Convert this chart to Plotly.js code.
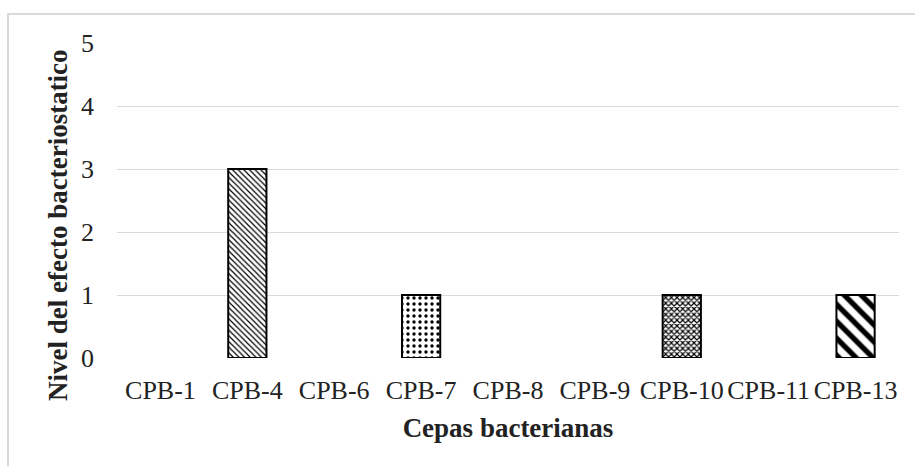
<!DOCTYPE html>
<html>
<head>
<meta charset="utf-8">
<script src="https://cdn.plot.ly/plotly-3.0.1.min.js"></script>
<style>
  html, body { margin: 0; padding: 0; width: 915px; height: 466px; overflow: hidden; background: #fff; }
  #frame { position: absolute; left: 7px; top: 13px; width: 1000px; height: 1000px; border: 2px solid #d9d9d9; }
  #chart { position: absolute; left: 0; top: 0; width: 915px; height: 466px; }
</style>
</head>
<body>
<div id="frame"></div>
<div id="chart"></div>
<script>
const categories = ["CPB-1", "CPB-4", "CPB-6", "CPB-7", "CPB-8", "CPB-9", "CPB-10", "CPB-11", "CPB-13"];
const values = [0, 3, 0, 1, 0, 0, 1, 0, 1];
const patternShapes = ["", "\\", "", ".", "", "", "x", "", "\\"];
const patternSizes = [6, 4, 6, 6, 6, 6, 4, 6, 12];
const patternSolidity = [0.3, 0.3, 0.3, 0.25, 0.3, 0.3, 0.5, 0.3, 0.45];
const yTicks = [0, 1, 2, 3, 4, 5];
const xTitle = "Cepas bacterianas";
const yTitle = "Nivel del efecto bacteriostatico";

const font = "Liberation Serif, Times New Roman, serif";

const trace = {
  type: "bar",
  x: categories,
  y: values,
  marker: {
    color: "#ffffff",
    line: { color: "#000000", width: values.map(v => (v > 0 ? 2 : 0)) },
    pattern: {
      shape: patternShapes,
      size: patternSizes,
      solidity: patternSolidity,
      fgcolor: "#000000",
      bgcolor: "#ffffff",
      fillmode: "replace"
    }
  },
  hoverinfo: "skip"
};

const layout = {
  width: 915,
  height: 466,
  margin: { l: 117, r: 16, t: 43, b: 108 },
  paper_bgcolor: "rgba(0,0,0,0)",
  plot_bgcolor: "rgba(0,0,0,0)",
  showlegend: false,
  bargap: 0.56,
  font: { family: font, color: "#222222", size: 26 },
  xaxis: {
    type: "category",
    showgrid: false,
    showline: false,
    zeroline: false,
    ticks: "",
    tickfont: { family: font, size: 26, color: "#222222" },
    ticklabelstandoff: 14,
    title: { text: xTitle, font: { family: font, size: 27, color: "#222222", weight: "bold" }, standoff: 14 },
    automargin: false
  },
  yaxis: {
    range: [0, 5],
    tickvals: yTicks,
    ticktext: yTicks.map(String),
    showgrid: true,
    gridcolor: "#d9d9d9",
    gridwidth: 1,
    zeroline: false,
    showline: false,
    ticks: "",
    tickfont: { family: font, size: 26, color: "#222222" },
    ticklabelstandoff: 22,
    automargin: false
  },
  annotations: [{
    text: yTitle,
    xref: "paper", yref: "paper",
    x: (58 - 117) / 782, y: (358 - 225) / 315,
    xanchor: "center", yanchor: "middle",
    textangle: -90,
    showarrow: false,
    font: { family: font, size: 27, color: "#222222", weight: "bold" }
  }]
};

Plotly.newPlot("chart", [trace], layout, { displayModeBar: false, staticPlot: true });
</script>
</body>
</html>
